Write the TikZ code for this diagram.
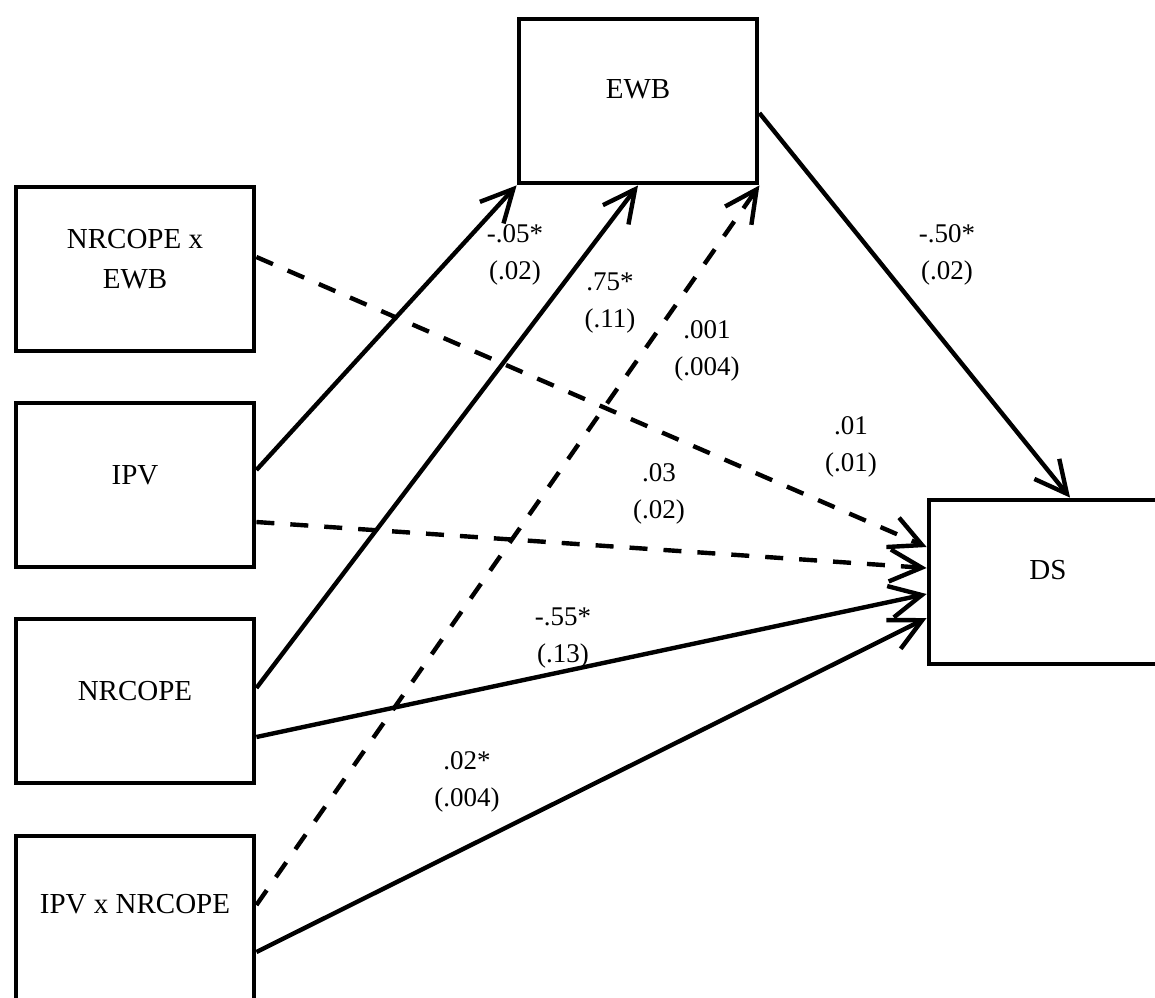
\documentclass[tikz,border=0pt]{standalone}
\usepackage{fontspec}
\setmainfont{Liberation Serif}
\usetikzlibrary{arrows.meta,calc}
\tikzset{
  box/.style={draw, line width=2.4pt, minimum width=119pt, minimum height=82pt, inner sep=0pt},
  boxtext/.style={font=\fontsize{14.5}{20}\selectfont, align=center, inner sep=0pt},
  coef/.style={font=\fontsize{13.5}{18.5}\selectfont, align=center, inner sep=0pt},
  path/.style={line width=2.2pt, -{Straight Barb[length=16pt,width=16pt]}},
  dashpath/.style={path, dash pattern=on 9pt off 8pt}
}
\begin{document}
\begin{tikzpicture}[x=0.5pt,y=-0.5pt]
\useasboundingbox (0,0) rectangle (1155,997);
\clip (0,0) rectangle (1155,997);
% boxes
\node[box] (nxe)  at (135,269) {};
\node[box] (ipv)  at (135,485) {};
\node[box] (nrc)  at (135,701) {};
\node[box] (ixn)  at (135,918) {};
\node[box] (ewb)  at (638,101) {};
\node[box] (ds)   at (1048,582) {};
% box texts
\node[boxtext] at ($(nxe.center)+(0,-10)$) {NRCOPE x\\EWB};
\node[boxtext] at ($(ipv.center)+(0,-10)$) {IPV};
\node[boxtext] at ($(nrc.center)+(0,-10)$) {NRCOPE};
\node[boxtext] at ($(ixn.center)+(0,-14)$) {IPV x NRCOPE};
\node[boxtext] at ($(ewb.center)+(0,-12)$) {EWB};
\node[boxtext] at ($(ds.center)+(0,-12)$) {DS};
% paths to EWB
\draw[path] ($(ipv.east)+(0,-15)$) -- (ewb.south west);
\draw[path] ($(nrc.east)+(0,-13)$) -- (ewb.south);
\draw[dashpath] ($(ixn.east)+(0,-13)$) -- (ewb.south east);
% paths to DS
\draw[dashpath] ($(nxe.east)+(0,-12)$) -- ($(ds.west)+(0,-35)$);
\draw[dashpath] ($(ipv.east)+(0,37)$) -- ($(ds.west)+(0,-14)$);
\draw[path] ($(nrc.east)+(0,36)$) -- ($(ds.west)+(0,12)$);
\draw[path] ($(ixn.east)+(0,34)$) -- ($(ds.west)+(0,36)$);
\draw[path] ($(ewb.east)+(0,12)$) -- ($(ds.north)+(22,0)$);
% coefficients
\node[coef] at (515,255) {-.05*\\(.02)};
\node[coef] at (610,303) {.75*\\(.11)};
\node[coef] at (707,351) {.001\\(.004)};
\node[coef] at (659,494) {.03\\(.02)};
\node[coef] at (851,447) {.01\\(.01)};
\node[coef] at (947,255) {-.50*\\(.02)};
\node[coef] at (563,638) {-.55*\\(.13)};
\node[coef] at (467,782) {.02*\\(.004)};
\end{tikzpicture}
\end{document}
